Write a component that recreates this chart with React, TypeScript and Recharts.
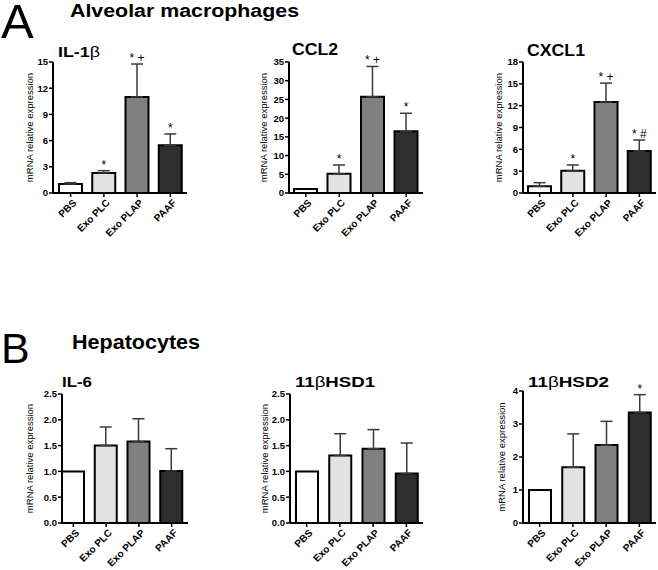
import React from 'react';
import { BarChart, Bar, XAxis, YAxis, ErrorBar, Cell, LabelList } from 'recharts';

const categories = ['PBS', 'Exo PLC', 'Exo PLAP', 'PAAF'];
const barColors = ['#ffffff', '#e2e2e2', '#808080', '#2e2e2e'];

const il1bValues = [1.03, 2.29, 11.0, 5.46];
const il1bSem = [0.15, 0.27, 3.77, 1.3];
const il1bSig = ['', '*', '* +', '*'];
const il1bTicks = [0, 3, 6, 9, 12, 15];

const ccl2Values = [1.07, 5.16, 25.7, 16.5];
const ccl2Sem = [0, 2.32, 8.1, 4.8];
const ccl2Sig = ['', '*', '* +', '*'];
const ccl2Ticks = [0, 5, 10, 15, 20, 25, 30, 35];

const cxcl1Values = [0.92, 3.07, 12.5, 5.77];
const cxcl1Sem = [0.5, 0.78, 2.6, 1.51];
const cxcl1Sig = ['', '*', '* +', '* #'];
const cxcl1Ticks = [0, 3, 6, 9, 12, 15, 18];

const il6Values = [1.0, 1.5, 1.58, 1.01];
const il6Sem = [0, 0.36, 0.44, 0.43];
const il6Sig = ['', '', '', ''];
const il6Ticks = [0, 0.5, 1.0, 1.5, 2.0, 2.5];

const hsd1Values = [1.0, 1.31, 1.44, 0.96];
const hsd1Sem = [0, 0.42, 0.37, 0.59];
const hsd1Sig = ['', '', '', ''];
const hsd1Ticks = [0, 0.5, 1.0, 1.5, 2.0, 2.5];

const hsd2Values = [1.0, 1.69, 2.36, 3.35];
const hsd2Sem = [0, 1.01, 0.72, 0.54];
const hsd2Sig = ['', '', '', '*'];
const hsd2Ticks = [0, 1, 2, 3, 4];

const FONT = '"Liberation Sans", Arial, Helvetica, sans-serif';
const Y_LABEL = 'mRNA relative expression';

type PanelCfg = {
  values: number[];
  sem: number[];
  sig: string[];
  ticks: number[];
  decimals: number;
  axisX: number;
  top: number;
  bottom: number;
  right: number;
  barSize: number;
  padLeft: number;
};

const panels: PanelCfg[] = [
  { values: il1bValues, sem: il1bSem, sig: il1bSig, ticks: il1bTicks, decimals: 0, axisX: 53, top: 62, bottom: 193, right: 187, barSize: 23, padLeft: 1 },
  { values: ccl2Values, sem: ccl2Sem, sig: ccl2Sig, ticks: ccl2Ticks, decimals: 0, axisX: 289, top: 62, bottom: 193, right: 423, barSize: 23, padLeft: 0 },
  { values: cxcl1Values, sem: cxcl1Sem, sig: cxcl1Sig, ticks: cxcl1Ticks, decimals: 0, axisX: 523, top: 62, bottom: 193, right: 656, barSize: 23, padLeft: 0 },
  { values: il6Values, sem: il6Sem, sig: il6Sig, ticks: il6Ticks, decimals: 1, axisX: 62, top: 394, bottom: 523, right: 188, barSize: 22, padLeft: -5 },
  { values: hsd1Values, sem: hsd1Sem, sig: hsd1Sig, ticks: hsd1Ticks, decimals: 1, axisX: 290, top: 394, bottom: 523, right: 423, barSize: 22, padLeft: 0 },
  { values: hsd2Values, sem: hsd2Sem, sig: hsd2Sig, ticks: hsd2Ticks, decimals: 0, axisX: 523, top: 391, bottom: 523, right: 656, barSize: 22, padLeft: 0 },
];

const XTick = (props: any) => {
  const { x, y, payload } = props;
  const ax = x + 4;
  const ay = y + 2;
  return (
    <text
      x={ax}
      y={ay}
      transform={`rotate(-45 ${ax} ${ay})`}
      textAnchor="end"
      fontSize={10}
      fontWeight="bold"
      fill="#000"
      dy="0.35em"
    >
      {payload.value}
    </text>
  );
};

function Panel({ cfg }: { cfg: PanelCfg }) {
  const chartLeft = cfg.axisX - 45;
  const chartTop = cfg.top - 30;
  const width = cfg.right + 6 - chartLeft;
  const height = cfg.bottom - chartTop + 46;
  const data = categories.map((c, i) => ({
    name: c,
    value: cfg.values[i],
    err: cfg.sem[i] ? [0, cfg.sem[i]] : null,
  }));
  const domainMax = cfg.ticks[cfg.ticks.length - 1];

  const renderSig = (p: any) => {
    const { x, y, width: w, height: h, index } = p;
    const label = cfg.sig[index];
    if (!label) return null;
    const v = cfg.values[index];
    const top = v + (cfg.sem[index] || 0);
    const base = y + h;
    const errY = base - (top * h) / v;
    return (
      <text x={x + w / 2} y={errY - 2} textAnchor="middle" fontSize={12} fill="#000">
        {label}
      </text>
    );
  };

  return (
    <div style={{ position: 'absolute', left: chartLeft, top: chartTop }}>
      <BarChart
        width={width}
        height={height}
        data={data}
        margin={{ top: 30, right: 6, bottom: 0, left: 0 }}
        barSize={cfg.barSize}
        style={{ overflow: 'visible' }}
      >
        <XAxis
          dataKey="name"
          height={46}
          interval={0}
          tick={<XTick />}
          tickSize={4}
          tickMargin={2}
          padding={{ left: cfg.padLeft, right: 0 }}
          axisLine={{ stroke: '#000', strokeWidth: 2 }}
          tickLine={{ stroke: '#000', strokeWidth: 1.5 }}
        />
        <YAxis
          width={45}
          domain={[0, domainMax]}
          ticks={cfg.ticks}
          interval={0}
          tickSize={4}
          tickMargin={1}
          tickFormatter={(v: number) => v.toFixed(cfg.decimals)}
          tick={{ fontSize: 9.5, fontWeight: 'bold', fill: '#000' }}
          axisLine={{ stroke: '#000', strokeWidth: 2 }}
          tickLine={{ stroke: '#000', strokeWidth: 1.5 }}
        />
        <Bar dataKey="value" isAnimationActive={false} stroke="#000" strokeWidth={2}>
          {data.map((d, i) => (
            <Cell key={d.name} fill={barColors[i]} />
          ))}
          <ErrorBar dataKey="err" width={6} stroke="#3a3a3a" strokeWidth={1.5} direction="y" />
          <LabelList dataKey="value" content={renderSig} />
        </Bar>
      </BarChart>
    </div>
  );
}

const yLabelX = [30, 263.5, 498.5, 30, 265, 501.5];

export default function App() {
  return (
    <div
      style={{
        position: 'absolute',
        left: 0,
        top: 0,
        width: 658,
        height: 570,
        background: '#fff',
        fontFamily: FONT,
        overflow: 'hidden',
      }}
    >
      {panels.map((cfg, i) => (
        <Panel key={i} cfg={cfg} />
      ))}
      <svg
        width={658}
        height={570}
        style={{ position: 'absolute', left: 0, top: 0, pointerEvents: 'none' }}
        fontFamily={FONT}
      >
        <text x={1} y={38} fontSize={49} fill="#000">A</text>
        <text x={70} y={17} fontSize={18} fontWeight="bold" fill="#000" textLength={229} lengthAdjust="spacingAndGlyphs">
          Alveolar macrophages
        </text>
        <text x={1} y={363} fontSize={43} fill="#000">B</text>
        <text x={72} y={349} fontSize={20} fontWeight="bold" fill="#000" textLength={128} lengthAdjust="spacingAndGlyphs">
          Hepatocytes
        </text>

        <text x={58} y={57} fontSize={15} fontWeight="bold" fill="#000" textLength={42} lengthAdjust="spacingAndGlyphs">
          IL-1<tspan fontWeight="normal">β</tspan>
        </text>
        <text x={292} y={55} fontSize={16} fontWeight="bold" fill="#000" textLength={46} lengthAdjust="spacingAndGlyphs">
          CCL2
        </text>
        <text x={527} y={56} fontSize={16} fontWeight="bold" fill="#000" textLength={58} lengthAdjust="spacingAndGlyphs">
          CXCL1
        </text>
        <text x={62} y={387} fontSize={15} fontWeight="bold" fill="#000" textLength={30} lengthAdjust="spacingAndGlyphs">
          IL-6
        </text>
        <text x={295} y={387} fontSize={15} fontWeight="bold" fill="#000" textLength={80} lengthAdjust="spacingAndGlyphs">
          11<tspan fontWeight="normal">β</tspan>HSD1
        </text>
        <text x={528} y={387} fontSize={15} fontWeight="bold" fill="#000" textLength={81} lengthAdjust="spacingAndGlyphs">
          11<tspan fontWeight="normal">β</tspan>HSD2
        </text>

        {panels.map((cfg, i) => {
          const cx = yLabelX[i];
          const cy = (cfg.top + cfg.bottom) / 2;
          return (
            <text
              key={i}
              x={cx}
              y={cy}
              transform={`rotate(-90 ${cx} ${cy})`}
              textAnchor="middle"
              dy="0.35em"
              fontSize={9.5}
              fill="#000"
            >
              {Y_LABEL}
            </text>
          );
        })}
      </svg>
    </div>
  );
}
